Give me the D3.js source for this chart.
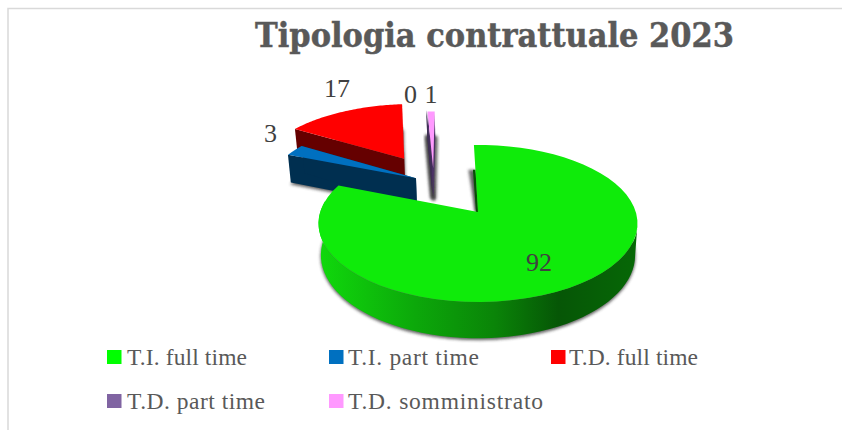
<!DOCTYPE html>
<html><head><meta charset="utf-8">
<script src="https://cdn.jsdelivr.net/npm/d3@7"></script>
<style>html,body{margin:0;padding:0;background:#fff}svg{display:block}</style>
</head><body><svg id="c" width="842" height="430"></svg>
<script>
const categories = ["T.I. full time","T.I. part time","T.D. full time","T.D. part time","T.D. somministrato"];
const values = [92,3,17,0,1];
const title = "Tipologia contrattuale 2023";
const topColors = ["#0FEB0A","#0070C0","#FF0000","#7A5C9E","#FF99FF"];
const wallColors = ["#0A8A0A","#002F50","#650000","#3F2F55","#4A2F66"];
const legendColors = ["#00FF00","#0070C0","#FF0000","#8064A2","#FF99FF"];
const explodeX = [0,-.42,-.52,-.32,-.31];
const explodeZ = [0,.47,.77,.64,.62];
const labelShift = [[-33,32],[-24,-17],[-7,-23],[-16,-16],[0,-17]];
const legendWidths = [120,131,129,138,195];

const svg = d3.select("#c");
const defs = svg.append("defs");
const blur = defs.append("filter").attr("id","blur").attr("x","-60%").attr("y","-20%").attr("width","220%").attr("height","140%");
blur.append("feGaussianBlur").attr("stdDeviation",1.6);
const grad = defs.append("linearGradient").attr("id","wall").attr("gradientUnits","userSpaceOnUse")
  .attr("x1",320).attr("x2",638).attr("y1",0).attr("y2",0);
[[0,"#10D80C"],[.3,"#0CA80A"],[.55,"#0A8408"],[.75,"#065606"],[1,"#066806"]].forEach(s=>grad.append("stop").attr("offset",s[0]).attr("stop-color",s[1]));

// frame
svg.append("path").attr("d",d3.line()([[8,430],[8,8.5],[842,8.5]])).attr("fill","none").attr("stroke","#D9D9D9").attr("stroke-width",1.5);

// camera
const cx=478, cy=212, R=157.8, H=76.8, P=.146, D=31, rot=-1.7*Math.PI/180;
const s = z=>1/(1+P*z);
const proj=(X,Z,drop=0)=>{
  const k=s(Z), x=R*X*k, y=-H*Z*k;
  return [cx+x*(drop?0.985:1), cy+y+drop*D*k];
};
const pie = d3.pie().sort(null).value(d=>d).startAngle(rot).endAngle(rot+2*Math.PI)(values);
const line = d3.line();
const arcAngles=(a0,a1)=>d3.range(0,61).map(i=>a0+(a1-a0)*i/60);
const pt=(i,a,t=1,drop=0)=>proj(explodeX[i]+t*Math.sin(a),explodeZ[i]+t*Math.cos(a),drop);
const topPath=i=>{const p=pie[i];return line([pt(i,0,0),...arcAngles(p.startAngle,p.endAngle).map(a=>pt(i,a))])+"Z";};
const outline=i=>{const p=pie[i];return [pt(i,0,0,1),...arcAngles(p.startAngle,p.endAngle).map(a=>pt(i,a,1,1))];};

const order=[4,3,2,1,0];
const g=svg.append("g");
// soft shadows
order.forEach(i=>{
  const thin=values[i]<=1;
  g.append("path").attr("d",line(outline(i))+"Z").attr("fill","#333").attr("opacity",.75)
    .attr("stroke","#333").attr("stroke-width",thin?5:1).attr("stroke-linejoin","round")
    .attr("filter","url(#blur)").attr("transform","translate(0,1.5)");
});
order.forEach(i=>{
  const p=pie[i];
  const G=g.append("g").attr("class","slice");
  if(i===0){
    // cut face seen at the notch
    const a=p.startAngle;
    const A=pt(0,a,0), B=pt(0,a,.6);
    G.append("path").attr("d",line([A,B,[B[0]-7,B[1]],[A[0]-3,A[1]]])+"Z").attr("fill","#444").attr("opacity",.8).attr("filter","url(#blur)");
    G.append("path").attr("d",line([A,B,[B[0]-2.5,B[1]],[A[0]-2,A[1]]])+"Z").attr("fill","#064F06");
    const as=arcAngles(Math.PI/2+.15,p.endAngle);
    const front=as.filter(x=>x<=3*Math.PI/2+.15);
    const tops=front.map(x=>pt(0,x)), bots=front.map(x=>pt(0,x,1,1)).reverse();
    G.append("path").attr("d",line([...tops,...bots])+"Z").attr("fill","url(#wall)");
  } else {
    const a0=p.startAngle,a1=p.endAngle;
    const poly=[pt(i,0,0),pt(i,a0),pt(i,a0,1,1),pt(i,0,0,1)];
    G.append("path").attr("d",line(poly)+"Z").attr("fill",wallColors[i]);
    const poly2=[pt(i,0,0),pt(i,a1),pt(i,a1,1,1),pt(i,0,0,1)];
    G.append("path").attr("d",line(poly2)+"Z").attr("fill",wallColors[i]);
  }
  G.append("path").attr("d",topPath(i)).attr("fill",topColors[i]);
});

// data labels
values.forEach((v,i)=>{
  const p=pie[i], m=(p.startAngle+p.endAngle)/2;
  const q= i===0 ? pt(0,Math.PI*0.62,.62) : pt(i,m,1);
  svg.append("text").attr("x",q[0]+labelShift[i][0]).attr("y",q[1]+labelShift[i][1]).attr("text-anchor","middle").attr("dominant-baseline","central")
    .attr("font-family","'Liberation Serif',serif").attr("font-size",26).attr("fill","#404040").text(v);
});

// title
svg.append("text").attr("x",494.5).attr("y",47).attr("text-anchor","middle")
  .attr("font-family","'DejaVu Serif',serif").attr("font-weight","bold").attr("font-size",34)
  .attr("textLength",479).attr("lengthAdjust","spacingAndGlyphs").attr("fill","#595959")
  .attr("stroke","#595959").attr("stroke-width",.5).text(title);

// legend
const colX=d3.scalePoint().domain([0,1,2]).range([107,551]);
const textX=d3.scalePoint().domain([0,1,2]).range([127,569]);
const rowY=d3.scalePoint().domain([0,1]).range([350,394]);
categories.forEach((c,i)=>{
  const x=colX(i%3), y=rowY(Math.floor(i/3));
  svg.append("rect").attr("x",x).attr("y",y).attr("width",14.5).attr("height",14).attr("fill",legendColors[i]);
  svg.append("text").attr("x",textX(i%3)).attr("y",y+14.5).attr("font-family","'Liberation Serif',serif").attr("font-size",23.5)
    .attr("textLength",legendWidths[i]).attr("lengthAdjust","spacing").attr("fill","#595959").text(c);
});
</script></body></html>
